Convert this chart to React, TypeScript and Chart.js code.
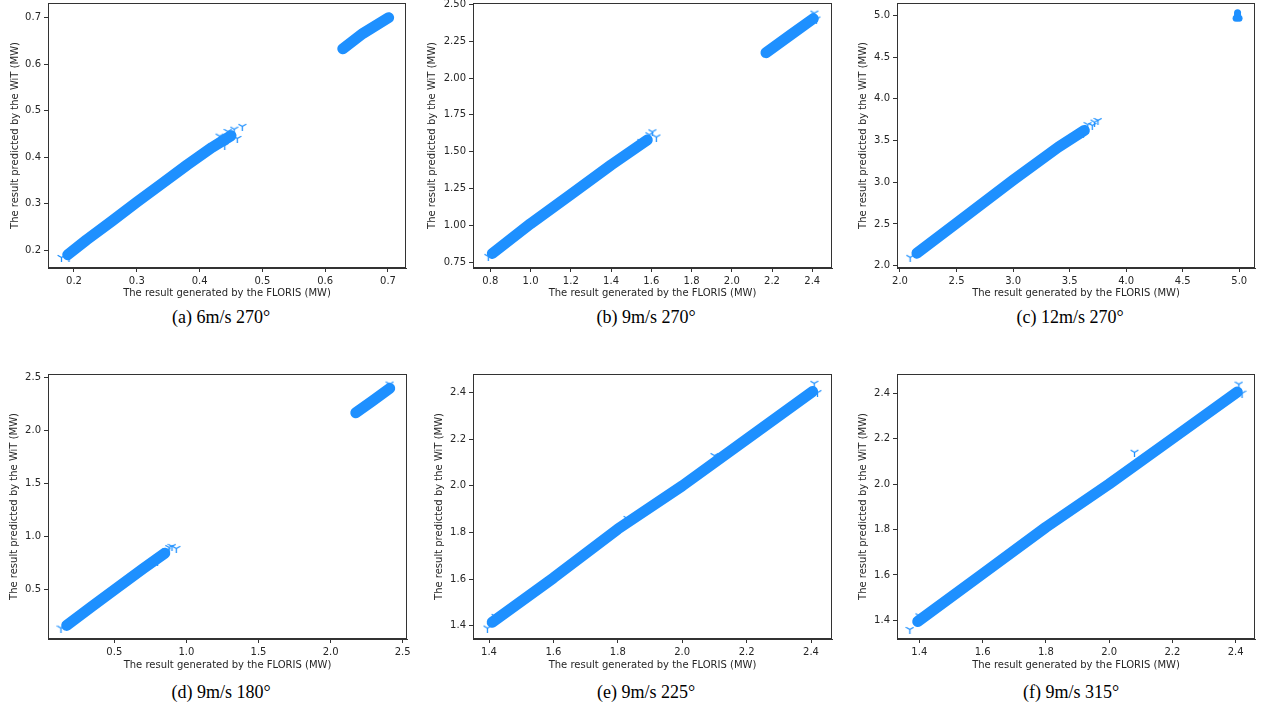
import React, { useEffect, useRef } from "react";
import { Chart, registerables } from "chart.js";

Chart.register(...registerables);

// ---------------- data ----------------
// (a) 6m/s 270°
const aLowX = [0.19, 0.22, 0.26, 0.3, 0.34, 0.38, 0.42, 0.45];
const aLowY = [0.19, 0.222, 0.262, 0.303, 0.343, 0.383, 0.421, 0.446];
const aHighX = [0.628, 0.66, 0.701];
const aHighY = [0.633, 0.666, 0.7];
const aSpikeX = [0.468, 0.455, 0.445, 0.46, 0.432, 0.44, 0.18, 0.192];
const aSpikeY = [0.466, 0.46, 0.455, 0.44, 0.445, 0.425, 0.184, 0.184];
const aXTicks = [0.2, 0.3, 0.4, 0.5, 0.6, 0.7];
const aYTicks = [0.2, 0.3, 0.4, 0.5, 0.6, 0.7];

// (b) 9m/s 270°
const bLowX = [0.81, 1.0, 1.2, 1.4, 1.58];
const bLowY = [0.81, 1.012, 1.21, 1.41, 1.58];
const bHighX = [2.17, 2.29, 2.405];
const bHighY = [2.172, 2.29, 2.403];
const bSpikeX = [1.625, 1.605, 1.59, 1.57, 1.55, 0.79, 2.41, 2.42];
const bSpikeY = [1.6, 1.635, 1.615, 1.56, 1.57, 0.79, 2.44, 2.4];
const bXTicks = [0.8, 1.0, 1.2, 1.4, 1.6, 1.8, 2.0, 2.2, 2.4];
const bYTicks = [0.75, 1.0, 1.25, 1.5, 1.75, 2.0, 2.25, 2.5];

// (c) 12m/s 270°
const cLowX = [2.15, 2.5, 3.0, 3.4, 3.63];
const cLowY = [2.15, 2.51, 3.025, 3.42, 3.62];
const cBlobX = [4.985, 4.972, 4.998, 4.985, 4.985];
const cBlobY = [5.01, 4.965, 4.965, 4.98, 5.03];
const cSpikeX = [3.75, 3.72, 3.7, 3.66, 3.62, 2.09];
const cSpikeY = [3.74, 3.72, 3.68, 3.69, 3.58, 2.1];
const cXTicks = [2.0, 2.5, 3.0, 3.5, 4.0, 4.5, 5.0];
const cYTicks = [2.0, 2.5, 3.0, 3.5, 4.0, 4.5, 5.0];

// (d) 9m/s 180°
const dLowX = [0.17, 0.35, 0.5, 0.7, 0.85];
const dLowY = [0.165, 0.35, 0.5, 0.7, 0.845];
const dHighX = [2.175, 2.29, 2.41];
const dHighY = [2.17, 2.28, 2.4];
const dSpikeX = [0.93, 0.9, 0.88, 0.86, 0.8, 0.13, 2.41];
const dSpikeY = [0.89, 0.91, 0.9, 0.87, 0.77, 0.14, 2.44];
const dXTicks = [0.5, 1.0, 1.5, 2.0, 2.5];
const dYTicks = [0.5, 1.0, 1.5, 2.0, 2.5];

// (e) 9m/s 225°
const eX = [1.41, 1.6, 1.8, 2.0, 2.2, 2.405];
const eY = [1.415, 1.605, 1.815, 2.0, 2.2, 2.405];
const eSpikeX = [2.41, 2.42, 1.395, 1.42, 1.83, 2.1];
const eSpikeY = [2.44, 2.4, 1.39, 1.44, 1.86, 2.13];
const eXTicks = [1.4, 1.6, 1.8, 2.0, 2.2, 2.4];
const eYTicks = [1.4, 1.6, 1.8, 2.0, 2.2, 2.4];

// (f) 9m/s 315°
const fX = [1.395, 1.6, 1.8, 2.0, 2.2, 2.405];
const fY = [1.395, 1.605, 1.81, 2.0, 2.2, 2.405];
const fSpikeX = [2.41, 2.42, 1.37, 1.4, 2.08];
const fSpikeY = [2.44, 2.4, 1.36, 1.42, 2.14];
const fXTicks = [1.4, 1.6, 1.8, 2.0, 2.2, 2.4];
const fYTicks = [1.4, 1.6, 1.8, 2.0, 2.2, 2.4];

const captions = [
  "(a) 6m/s 270°",
  "(b) 9m/s 270°",
  "(c) 12m/s 270°",
  "(d) 9m/s 180°",
  "(e) 9m/s 225°",
  "(f) 9m/s 315°",
];

const X_TITLE = "The result generated by the FLORIS (MW)";
const Y_TITLE = "The result predicted by the WiT (MW)";

// ---------------- styling / layout ----------------
const BLUE = "#1E90FF";
const INK = "#262626";
const AXIS = "#333333";
const FONT = { family: "'DejaVu Sans', sans-serif", size: 10 };

type Series = { x: number[]; y: number[] };
type Spec = {
  caption: string;
  bands: Series[];
  spikes: Series;
  blob?: Series;
  xTicks: number[];
  yTicks: number[];
  xDec: number;
  yDec: number;
  range: [number, number, number, number]; // xMin xMax yMin yMax
  box: { L: number; R: number; T: number; B: number; tx: number; ty: number; cx: number; cy: number };
};

const specs: Spec[] = [
  {
    caption: captions[0],
    bands: [{ x: aLowX, y: aLowY }, { x: aHighX, y: aHighY }],
    spikes: { x: aSpikeX, y: aSpikeY },
    xTicks: aXTicks, yTicks: aYTicks, xDec: 1, yDec: 1,
    range: [0.1586, 0.7287, 0.1614, 0.7315],
    box: { L: 48, R: 406, T: 2, B: 268, tx: 15, ty: 293, cx: 221, cy: 317 },
  },
  {
    caption: captions[1],
    bands: [{ x: bLowX, y: bLowY }, { x: bHighX, y: bHighY }],
    spikes: { x: bSpikeX, y: bSpikeY },
    xTicks: bXTicks, yTicks: bYTicks, xDec: 1, yDec: 2,
    range: [0.714, 2.498, 0.7115, 2.509],
    box: { L: 473, R: 832, T: 2, B: 268, tx: 432, ty: 293, cx: 646, cy: 317 },
  },
  {
    caption: captions[2],
    bands: [{ x: cLowX, y: cLowY }],
    spikes: { x: cSpikeX, y: cSpikeY },
    blob: { x: cBlobX, y: cBlobY },
    xTicks: cXTicks, yTicks: cYTicks, xDec: 1, yDec: 1,
    range: [1.9735, 5.139, 1.9726, 5.147],
    box: { L: 897, R: 1255, T: 2, B: 268, tx: 863, ty: 293, cx: 1070, cy: 317 },
  },
  {
    caption: captions[3],
    bands: [{ x: dLowX, y: dLowY }, { x: dHighX, y: dHighY }],
    spikes: { x: dSpikeX, y: dSpikeY },
    xTicks: dXTicks, yTicks: dYTicks, xDec: 1, yDec: 1,
    range: [0.0402, 2.53, 0.037, 2.535],
    box: { L: 48, R: 407, T: 373, B: 639, tx: 14, ty: 665, cx: 221, cy: 692 },
  },
  {
    caption: captions[4],
    bands: [{ x: eX, y: eY }],
    spikes: { x: eSpikeX, y: eSpikeY },
    xTicks: eXTicks, yTicks: eYTicks, xDec: 1, yDec: 1,
    range: [1.3503, 2.4652, 1.3432, 2.48],
    box: { L: 473, R: 832, T: 373, B: 639, tx: 439, ty: 665, cx: 646, cy: 692 },
  },
  {
    caption: captions[5],
    bands: [{ x: fX, y: fY }],
    spikes: { x: fSpikeX, y: fSpikeY },
    xTicks: fXTicks, yTicks: fYTicks, xDec: 1, yDec: 1,
    range: [1.3295, 2.461, 1.318, 2.4846],
    box: { L: 897, R: 1255, T: 373, B: 639, tx: 863, ty: 665, cx: 1071, cy: 692 },
  },
];

const zip = (s: Series) => s.x.map((x, i) => ({ x, y: s.y[i] }));

function triMarker(): HTMLCanvasElement {
  const c = document.createElement("canvas");
  c.width = 9;
  c.height = 9;
  const g = c.getContext("2d")!;
  g.strokeStyle = BLUE;
  g.lineWidth = 1.3;
  g.beginPath();
  g.moveTo(4.5, 4.5);
  g.lineTo(4.5, 9);
  g.moveTo(4.5, 4.5);
  g.lineTo(0.6, 2.2);
  g.moveTo(4.5, 4.5);
  g.lineTo(8.4, 2.2);
  g.stroke();
  return c;
}

const framePlugin = {
  id: "frame",
  afterDatasetsDraw(chart: any) {
    const { ctx, chartArea } = chart;
    ctx.save();
    ctx.strokeStyle = AXIS;
    ctx.lineWidth = 1;
    const l = Math.round(chartArea.left) + 0.5;
    const t = Math.round(chartArea.top) + 0.5;
    const r = Math.round(chartArea.right) - 0.5;
    const b = Math.round(chartArea.bottom) - 0.5;
    ctx.strokeRect(l, t, r - l, b - t);
    ctx.restore();
  },
};

const PAD_TOP = 8;
const PAD_RIGHT = 12;

function Panel({ spec }: { spec: Spec }) {
  const ref = useRef<HTMLCanvasElement | null>(null);
  const { L, R, T, B, tx, ty } = spec.box;
  const cl = Math.round(tx - 6);
  const ct = T - PAD_TOP;
  const bottom = Math.round(ty + 6);
  const cw = R + PAD_RIGHT - cl;
  const ch = bottom - ct;
  const yW = L - cl;
  const xH = bottom - B;

  useEffect(() => {
    if (!ref.current) return;
    const marker = triMarker();
    const datasets: any[] = [];
    spec.bands.forEach((s) => {
      datasets.push({
        type: "scatter",
        data: zip(s),
        showLine: true,
        borderColor: BLUE,
        backgroundColor: BLUE,
        borderWidth: 11,
        borderCapStyle: "round",
        borderJoinStyle: "round",
        pointRadius: 0,
        tension: 0,
      });
    });
    datasets.push({
      type: "scatter",
      data: zip(spec.spikes),
      pointStyle: marker,
      pointRadius: 4,
      borderColor: BLUE,
      backgroundColor: BLUE,
    });
    if (spec.blob) {
      datasets.push({
        type: "scatter",
        data: zip(spec.blob),
        pointStyle: "circle",
        pointRadius: 3.5,
        borderWidth: 0,
        backgroundColor: BLUE,
      });
    }
    const [xMin, xMax, yMin, yMax] = spec.range;
    const chart = new Chart(ref.current, {
      type: "scatter",
      data: { datasets },
      plugins: [framePlugin],
      options: {
        animation: false,
        responsive: false,
        events: [],
        layout: { padding: { left: 0, top: PAD_TOP, right: PAD_RIGHT, bottom: 0 } },
        plugins: { legend: { display: false }, tooltip: { enabled: false } },
        scales: {
          x: {
            type: "linear",
            position: "bottom",
            min: xMin,
            max: xMax,
            afterBuildTicks: (s: any) => {
              s.ticks = spec.xTicks.map((v) => ({ value: v }));
            },
            afterFit: (s: any) => {
              s.height = xH;
            },
            ticks: {
              font: FONT,
              color: INK,
              padding: 3,
              maxRotation: 0,
              autoSkip: false,
              includeBounds: false,
              callback: (v: any) => Number(v).toFixed(spec.xDec),
            },
            grid: { display: true, drawOnChartArea: false, drawTicks: true, tickLength: 4, color: AXIS, lineWidth: 1 },
            border: { display: true, color: AXIS, width: 1 },
            title: { display: true, text: X_TITLE, font: FONT, color: INK, padding: 0 },
          },
          y: {
            type: "linear",
            position: "left",
            min: yMin,
            max: yMax,
            afterBuildTicks: (s: any) => {
              s.ticks = spec.yTicks.map((v) => ({ value: v }));
            },
            afterFit: (s: any) => {
              s.width = yW;
            },
            ticks: {
              font: FONT,
              color: INK,
              padding: 3,
              autoSkip: false,
              includeBounds: false,
              callback: (v: any) => Number(v).toFixed(spec.yDec),
            },
            grid: { display: true, drawOnChartArea: false, drawTicks: true, tickLength: 4, color: AXIS, lineWidth: 1 },
            border: { display: true, color: AXIS, width: 1 },
            title: { display: true, text: Y_TITLE, font: FONT, color: INK, padding: 0 },
          },
        },
      } as any,
    });
    return () => chart.destroy();
  }, []);

  return (
    <>
      <canvas
        ref={ref}
        width={cw}
        height={ch}
        style={{ position: "absolute", left: cl, top: ct, width: cw, height: ch }}
      />
      <div
        style={{
          position: "absolute",
          left: spec.box.cx - 120,
          top: spec.box.cy - 11,
          width: 240,
          height: 22,
          lineHeight: "22px",
          textAlign: "center",
          fontFamily: "'Liberation Serif', 'Times New Roman', serif",
          fontSize: 18,
          color: "#000",
          whiteSpace: "nowrap",
        }}
      >
        {spec.caption}
      </div>
    </>
  );
}

export default function App() {
  return (
    <div
      style={{
        position: "absolute",
        left: 0,
        top: 0,
        width: 1262,
        height: 707,
        overflow: "hidden",
        background: "#ffffff",
      }}
    >
      {specs.map((s, i) => (
        <Panel key={i} spec={s} />
      ))}
    </div>
  );
}
